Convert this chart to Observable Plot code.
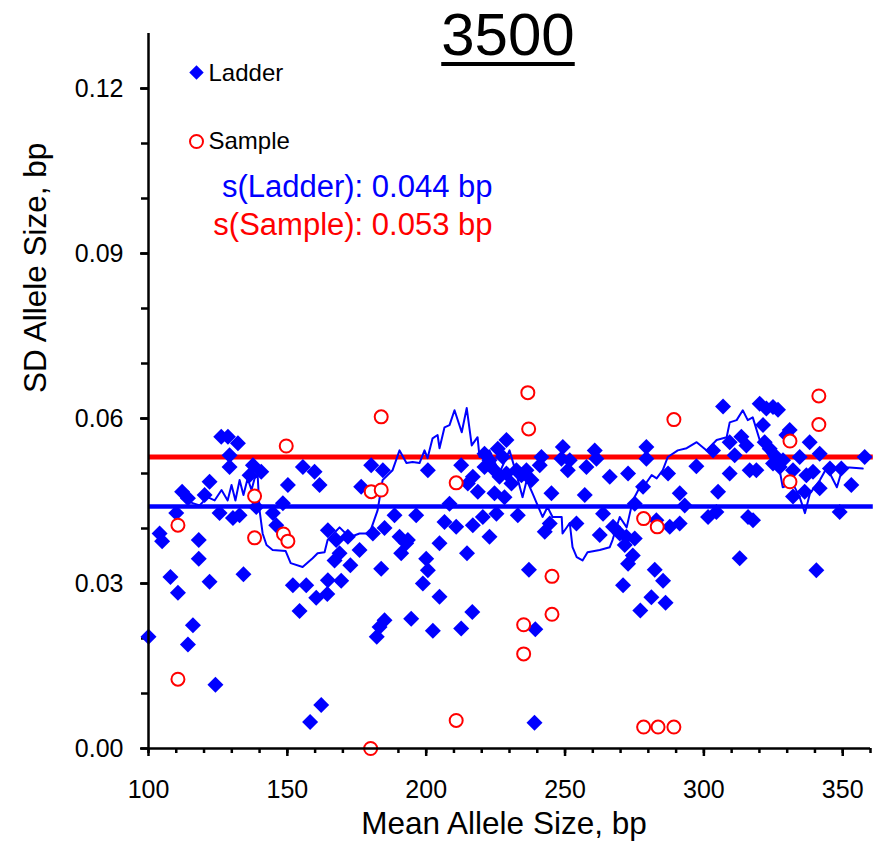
<!DOCTYPE html>
<html><head><meta charset="utf-8">
<script src="https://cdn.jsdelivr.net/npm/d3@7"></script>
<script src="https://cdn.jsdelivr.net/npm/@observablehq/plot@0.6"></script>
<style>
body{margin:0;background:#fff;}
#wrap{position:relative;width:882px;height:843px;font-family:"Liberation Sans",Arial,sans-serif;}
#title{position:absolute;left:258px;width:500px;top:0px;text-align:center;font-size:60px;line-height:69px;color:#000;
text-decoration:underline;text-decoration-thickness:4px;text-underline-offset:7px;z-index:2;}
#wrap svg{position:absolute;left:0;top:0;}
</style></head><body>
<div id="wrap"><div id="title">3500</div></div>
<script>
const ladderX = [104.0,104.9,110.0,112.1,114.2,118.1,120.2,122.0,125.6,126.2,128.6,129.2,132.2,129.2,130.4,132.8,137.6,136.4,140.6,138.8,144.8,146.0,148.4,150.2,155.6,159.8,161.6,164.6,167.6,171.8,176.6,176.0,168.8,180.2,184.4,180.8,185.0,
118.1,107.9,110.6,122.0,134.2,116.0,114.2,100.0,124.1,152.0,156.8,154.4,160.4,164.4,164.6,169.4,167.0,172.7,183.8,185.0,183.2,182.2,162.2,158.2,
191.0,192.8,200.0,200.6,198.8,204.8,204.8,214.7,194.6,202.4,212.6,216.6,237.0,239.3,239.0,270.9,272.7,
200.6,212.6,208.4,188.6,196.4,190.4,193.4,206.6,210.8,215.0,216.8,218.6,216.8,220.4,222.8,225.3,224.6,221.0,222.8,221.0,225.8,228.9,227.6,224.6,226.4,228.2,228.9,230.7,232.5,234.3,236.1,237.9,233.0,241.5,240.9,245.1,244.5,242.7,249.2,248.7,251.7,251.0,257.7,260.7,261.3,257.1,254.1,262.5,263.7,266.1,272.7,267.3,269.7,272.1,
279.3,279.3,278.1,275.1,287.1,297.3,291.3,293.1,305.1,306.9,303.3,301.5,304.5,309.3,309.3,311.1,313.5,315.3,316.5,318.9,315.9,317.7,320.1,322.5,324.9,326.7,321.3,321.9,323.7,326.1,324.9,328.5,330.9,329.7,327.3,332.1,334.5,336.9,339.3,338.1,341.7,345.4,349.5,341.7,336.3,332.1,353.1,348.9,357.9,
275.1,274.4,282.9,287.7,291.3,312.9,271.5,282.3,285.3,281.1,286.2,277.1,340.5];
const ladderY = [0.0391,0.0377,0.0428,0.0467,0.0455,0.0379,0.0461,0.0485,0.0428,0.0567,0.0567,0.0533,0.0555,0.0512,0.0419,0.0424,0.0515,0.0497,0.0503,0.0439,0.0428,0.0406,0.0446,0.0479,0.0512,0.0503,0.0479,0.0397,0.0379,0.0385,0.0476,0.0361,0.0355,0.0515,0.0506,0.0391,0.0401,
0.0345,0.0312,0.0283,0.0303,0.0317,0.0224,0.0189,0.0203,0.0116,0.0297,0.0297,0.0250,0.0274,0.0281,0.0306,0.0305,0.0342,0.0333,0.0327,0.0233,0.0221,0.0203,0.0079,0.0048,
0.0355,0.0373,0.0345,0.0324,0.0300,0.0276,0.0373,0.0355,0.0236,0.0214,0.0218,0.0248,0.0325,0.0217,0.0047,0.0297,0.0336,
0.0506,0.0515,0.0445,0.0424,0.0424,0.0385,0.0379,0.0412,0.0403,0.0482,0.0494,0.0467,0.0406,0.0421,0.0385,0.0427,0.0464,0.0536,0.0524,0.0512,0.0545,0.0561,0.0530,0.0506,0.0494,0.0457,0.0500,0.0482,0.0506,0.0497,0.0506,0.0488,0.0424,0.0530,0.0515,0.0464,0.0409,0.0394,0.0548,0.0527,0.0524,0.0506,0.0512,0.0542,0.0527,0.0461,0.0409,0.0388,0.0427,0.0494,0.0500,0.0403,0.0391,0.0385,
0.0548,0.0527,0.0476,0.0445,0.0500,0.0513,0.0464,0.0442,0.0467,0.0622,0.0542,0.0421,0.0430,0.0500,0.0557,0.0533,0.0567,0.0551,0.0506,0.0506,0.0421,0.0415,0.0627,0.0618,0.0621,0.0616,0.0588,0.0557,0.0545,0.0530,0.0518,0.0524,0.0579,0.0570,0.0512,0.0506,0.0530,0.0497,0.0503,0.0557,0.0536,0.0509,0.0509,0.0473,0.0467,0.0458,0.0479,0.0430,0.0530,
0.0382,0.0351,0.0415,0.0403,0.0409,0.0346,0.0370,0.0325,0.0305,0.0275,0.0265,0.0251,0.0324];

const sampleX = [110.6,110.6,138.2,138.2,149.6,148.6,150.2,180.0,180.2,183.8,183.8,210.8,210.8,235.1,235.1,236.6,236.9,245.3,245.3,278.3,283.2,289.2,278.3,283.5,289.2,331.0,331.0,341.4,341.4];
const sampleY = [0.0406,0.0126,0.0459,0.0383,0.0550,0.0390,0.0377,0.0000,0.0467,0.0603,0.0470,0.0483,0.0051,0.0225,0.0172,0.0647,0.0581,0.0313,0.0244,0.0418,0.0403,0.0598,0.0039,0.0039,0.0039,0.0559,0.0485,0.0641,0.0589];

const avgX = [114.8,118.4,121.3,123.8,126.3,128.5,129.9,131.3,132.8,134.2,135.7,137.1,138.2,139.3,140.0,141.1,142.5,144.7,149.4,151.2,155.5,159.1,160.9,163.4,164.5,168.8,172.4,176.0,179.6,182.5,184.3,187.9,190.4,192.9,195.1,197.6,199.4,200.5,202.3,204.1,204.8,206.6,208.4,210.2,212.8,214.6,216.4,218.5,219.2,222.8,226.4,230.0,232.6,234.7,236.2,238.3,241.9,243.7,245.5,248.8,249.1,251.7,252.7,254.2,256.3,258.1,262.5,266.1,267.1,269.7,272.2,274.4,276.9,279.4,281.2,283.0,285.2,287.0,290.6,293.8,297.4,301.0,304.6,308.2,309.3,311.8,314.0,315.8,317.6,320.1,323.7,327.3,328.4,332.0,334.5,336.4,338.2,341.8,344.3,347.9,350.0,352.5,357.2];
const avgY = [0.0448,0.0442,0.0457,0.0451,0.0470,0.0451,0.0479,0.0451,0.0488,0.0461,0.0491,0.0470,0.0491,0.0497,0.0433,0.0391,0.0370,0.0361,0.0359,0.0337,0.0330,0.0346,0.0355,0.0357,0.0379,0.0402,0.0384,0.0391,0.0391,0.0433,0.0488,0.0506,0.0542,0.0519,0.0521,0.0519,0.0542,0.0528,0.0564,0.0570,0.0546,0.0584,0.0588,0.0615,0.0575,0.0619,0.0551,0.0566,0.0530,0.0542,0.0501,0.0542,0.0497,0.0457,0.0488,0.0464,0.0421,0.0439,0.0421,0.0421,0.0391,0.0410,0.0366,0.0348,0.0342,0.0357,0.0361,0.0366,0.0379,0.0421,0.0402,0.0451,0.0475,0.0484,0.0497,0.0491,0.0506,0.0530,0.0542,0.0546,0.0557,0.0542,0.0561,0.0566,0.0593,0.0597,0.0615,0.0597,0.0602,0.0561,0.0530,0.0506,0.0475,0.0482,0.0457,0.0428,0.0464,0.0488,0.0511,0.0475,0.0511,0.0511,0.0509];

const ladderSD = 0.044;
const sampleSD = 0.053;
const statLabels = ["s(Ladder): 0.044 bp", "s(Sample): 0.053 bp"];
const legendLabels = ["Ladder", "Sample"];

const xTicks = [100, 150, 200, 250, 300, 350];
const xMinorTicks = d3.range(100, 361, 10);
const yTicks = [0, 0.03, 0.06, 0.09, 0.12];
const yMinorTicks = d3.range(0, 13).map(i => i / 100);

const ladder = ladderX.map((x, i) => ({x, y: ladderY[i]}));
const sample = sampleX.map((x, i) => ({x, y: sampleY[i]}));
const avg = avgX.map((x, i) => ({x, y: avgY[i]}));

const BLUE = "#0000ff", RED = "#ff0000";

const plot = Plot.plot({
  width: 882, height: 843,
  marginLeft: 148, marginRight: 12, marginTop: 33, marginBottom: 95,
  x: {domain: [100, 360]},
  y: {domain: [0, 0.13]},
  style: {fontFamily: '"Liberation Sans", Arial, sans-serif', color: "black", background: "transparent"},
  marks: [
    Plot.axisX(xMinorTicks, {tickSize: 5, text: null, strokeWidth: 2.5, label: null}),
    Plot.axisX(xTicks, {tickSize: 8, tickPadding: 24, fontSize: 25, strokeWidth: 2.5, label: null, tickFormat: d => String(d), fill: "black"}),
    Plot.axisY(yMinorTicks, {tickSize: 7, text: null, strokeWidth: 2.5, label: null}),
    Plot.axisY(yTicks, {tickSize: 8, tickPadding: 17, fontSize: 25, strokeWidth: 2.5, label: null, tickFormat: d => d.toFixed(2), fill: "black"}),
    Plot.ruleY([sampleSD], {x1: 100, x2: 361, stroke: RED, strokeWidth: 5}),
    Plot.ruleY([ladderSD], {x1: 100, x2: 361, stroke: BLUE, strokeWidth: 4.5}),
    Plot.dot(ladder, {x: "x", y: "y", symbol: "diamond2", r: 7.2, fill: BLUE}),
    Plot.line(avg, {x: "x", y: "y", stroke: BLUE, strokeWidth: 2}),
    Plot.dot(sample, {x: "x", y: "y", r: 6.5, stroke: RED, strokeWidth: 2, fill: "white"}),
    Plot.ruleX([100], {y1: 0, y2: 0.13, stroke: "black", strokeWidth: 2.5}),
    Plot.ruleY([0], {x1: 100, x2: 360, stroke: "black", strokeWidth: 2.5}),
    // legend
    Plot.dot([legendLabels[0]], {frameAnchor: "top-left", dx: 48, dy: 39, symbol: "diamond2", r: 6.5, fill: BLUE}),
    Plot.dot([legendLabels[1]], {frameAnchor: "top-left", dx: 48, dy: 108, r: 6.5, stroke: RED, strokeWidth: 2, fill: "white"}),
    Plot.text([legendLabels[0]], {frameAnchor: "top-left", lineAnchor: "middle", dx: 60, dy: 40, textAnchor: "start", fontSize: 24, fill: "black"}),
    Plot.text([legendLabels[1]], {frameAnchor: "top-left", lineAnchor: "middle", dx: 60, dy: 108, textAnchor: "start", fontSize: 24, fill: "black"}),
    Plot.text([statLabels[0]], {frameAnchor: "top-left", lineAnchor: "middle", dx: 344, dy: 154, textAnchor: "end", fontSize: 31, fill: BLUE}),
    Plot.text([statLabels[1]], {frameAnchor: "top-left", lineAnchor: "middle", dx: 344, dy: 192, textAnchor: "end", fontSize: 31, fill: RED}),
    // axis titles
    Plot.text(["Mean Allele Size, bp"], {frameAnchor: "bottom", lineAnchor: "middle", dx: -5.5, dy: 75, fontSize: 31.5, fill: "black"}),
    Plot.text(["SD Allele Size, bp"], {frameAnchor: "left", lineAnchor: "middle", dx: -112.5, dy: 2, rotate: -90, fontSize: 31.5, fill: "black"})
  ]
});
document.getElementById("wrap").appendChild(plot);
</script>
</body></html>
